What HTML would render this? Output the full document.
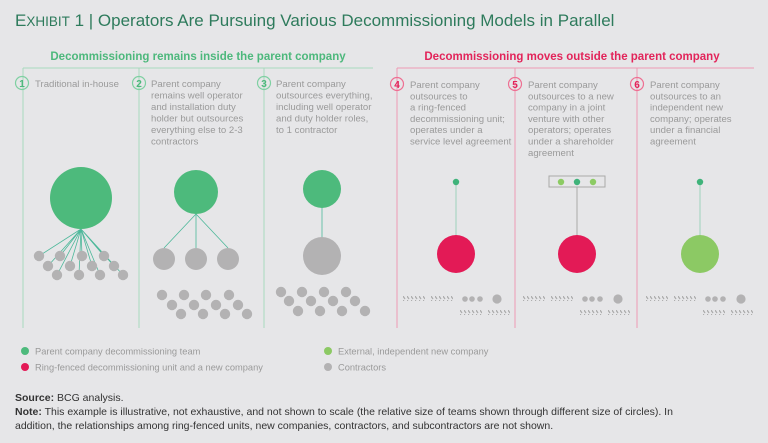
<!DOCTYPE html>
<html><head><meta charset="utf-8"><style>
body{margin:0;background:#e6e6e8;}
svg{display:block;font-family:"Liberation Sans",sans-serif;}
.t{font-size:9.6px;fill:#9a9a9a;}
</style></head><body>
<svg width="768" height="443" viewBox="0 0 768 443" xmlns="http://www.w3.org/2000/svg">
<defs>
<pattern id="h" width="4" height="4" patternUnits="userSpaceOnUse">
<path d="M0,0 L2,3" stroke="#aaa" stroke-width="1.2"/>
</pattern>
<g id="hx"><rect x="0" y="0" width="22" height="5" fill="url(#h)"/></g>
</defs>
<rect width="768" height="443" fill="#e6e6e8"/>
<text x="15" y="26" font-size="17" fill="#2e7b5c">E<tspan font-size="13.5">XHIBIT</tspan> 1 | Operators Are Pursuing Various Decommissioning Models in Parallel</text>

<text x="198" y="60" font-size="11.5" font-weight="bold" fill="#4db87c" text-anchor="middle">Decommissioning remains inside the parent company</text>
<text x="572" y="60" font-size="11.5" font-weight="bold" fill="#e2245a" text-anchor="middle">Decommissioning moves outside the parent company</text>

<g stroke="#a8d9be" stroke-width="1" fill="none">
<path d="M23,68H373M23,68V328M139,68V328M264,68V328"/>
</g>
<g stroke="#ef9ab3" stroke-width="1" fill="none">
<path d="M397,68H754M397,68V328M515,68V328M637,68V328"/>
</g>

<g font-size="10" font-weight="bold" text-anchor="middle">
<circle cx="22" cy="83" r="6.5" fill="none" stroke="#7fd0a2" stroke-width="1.2"/><text x="22" y="87" fill="#4db87c">1</text>
<circle cx="139" cy="83" r="6.5" fill="none" stroke="#7fd0a2" stroke-width="1.2"/><text x="139" y="87" fill="#4db87c">2</text>
<circle cx="264" cy="83" r="6.5" fill="none" stroke="#7fd0a2" stroke-width="1.2"/><text x="264" y="87" fill="#4db87c">3</text>
<circle cx="397" cy="84" r="6.5" fill="none" stroke="#ee6f92" stroke-width="1.2"/><text x="397" y="88" fill="#e2245a">4</text>
<circle cx="515" cy="84" r="6.5" fill="none" stroke="#ee6f92" stroke-width="1.2"/><text x="515" y="88" fill="#e2245a">5</text>
<circle cx="637" cy="84" r="6.5" fill="none" stroke="#ee6f92" stroke-width="1.2"/><text x="637" y="88" fill="#e2245a">6</text>
</g>

<text class="t" x="35" y="87">Traditional in-house</text>
<text class="t"><tspan x="151" y="87">Parent company</tspan><tspan x="151" dy="11.5">remains well operator</tspan><tspan x="151" dy="11.5">and installation duty</tspan><tspan x="151" dy="11.5">holder but outsources</tspan><tspan x="151" dy="11.5">everything else to 2-3</tspan><tspan x="151" dy="11.5">contractors</tspan></text>
<text class="t"><tspan x="276" y="87">Parent company</tspan><tspan x="276" dy="11.5">outsources everything,</tspan><tspan x="276" dy="11.5">including well operator</tspan><tspan x="276" dy="11.5">and duty holder roles,</tspan><tspan x="276" dy="11.5">to 1 contractor</tspan></text>
<text class="t"><tspan x="410" y="88">Parent company</tspan><tspan x="410" dy="11.3">outsources to</tspan><tspan x="410" dy="11.3">a ring-fenced</tspan><tspan x="410" dy="11.3">decommissioning unit;</tspan><tspan x="410" dy="11.3">operates under a</tspan><tspan x="410" dy="11.3">service level agreement</tspan></text>
<text class="t"><tspan x="528" y="88">Parent company</tspan><tspan x="528" dy="11.3">outsources to a new</tspan><tspan x="528" dy="11.3">company in a joint</tspan><tspan x="528" dy="11.3">venture with other</tspan><tspan x="528" dy="11.3">operators; operates</tspan><tspan x="528" dy="11.3">under a shareholder</tspan><tspan x="528" dy="11.3">agreement</tspan></text>
<text class="t"><tspan x="650" y="88">Parent company</tspan><tspan x="650" dy="11.3">outsources to an</tspan><tspan x="650" dy="11.3">independent new</tspan><tspan x="650" dy="11.3">company; operates</tspan><tspan x="650" dy="11.3">under a financial</tspan><tspan x="650" dy="11.3">agreement</tspan></text>

<g stroke="#4db89a" stroke-width="0.8">
<path d="M81,229L39,256M81,229L48,266M81,229L60,256M81,229L57,275M81,229L70,266M81,229L82,256M81,229L79,275M81,229L92,266M81,229L100,275M81,229L104,256M81,229L114,266M81,229L123,275"/>
</g>
<g fill="#b3b2b3">
<circle cx="39" cy="256" r="5.2"/><circle cx="60" cy="256" r="5.2"/><circle cx="82" cy="256" r="5.2"/><circle cx="104" cy="256" r="5.2"/>
<circle cx="48" cy="266" r="5.2"/><circle cx="70" cy="266" r="5.2"/><circle cx="92" cy="266" r="5.2"/><circle cx="114" cy="266" r="5.2"/>
<circle cx="57" cy="275" r="5.2"/><circle cx="79" cy="275" r="5.2"/><circle cx="100" cy="275" r="5.2"/><circle cx="123" cy="275" r="5.2"/>
</g>
<circle cx="81" cy="198" r="31" fill="#4dba7c"/>

<g stroke="#4db89a" stroke-width="0.8"><path d="M196,214L164,248M196,214V248M196,214L228,248"/></g>
<circle cx="196" cy="192" r="22" fill="#4dba7c"/>
<g fill="#b3b2b3">
<circle cx="164" cy="259" r="11"/><circle cx="196" cy="259" r="11"/><circle cx="228" cy="259" r="11"/>
<circle cx="162" cy="295" r="5.2"/><circle cx="184" cy="295" r="5.2"/><circle cx="206" cy="295" r="5.2"/><circle cx="229" cy="295" r="5.2"/>
<circle cx="172" cy="305" r="5.2"/><circle cx="194" cy="305" r="5.2"/><circle cx="216" cy="305" r="5.2"/><circle cx="238" cy="305" r="5.2"/>
<circle cx="181" cy="314" r="5.2"/><circle cx="203" cy="314" r="5.2"/><circle cx="225" cy="314" r="5.2"/><circle cx="247" cy="314" r="5.2"/>
</g>

<path d="M322,207V240" stroke="#4db89a" stroke-width="0.8"/>
<circle cx="322" cy="189" r="19" fill="#4dba7c"/>
<g fill="#b3b2b3">
<circle cx="322" cy="256" r="19"/>
<circle cx="281" cy="292" r="5.2"/><circle cx="302" cy="292" r="5.2"/><circle cx="324" cy="292" r="5.2"/><circle cx="346" cy="292" r="5.2"/>
<circle cx="289" cy="301" r="5.2"/><circle cx="311" cy="301" r="5.2"/><circle cx="333" cy="301" r="5.2"/><circle cx="355" cy="301" r="5.2"/>
<circle cx="298" cy="311" r="5.2"/><circle cx="320" cy="311" r="5.2"/><circle cx="342" cy="311" r="5.2"/><circle cx="365" cy="311" r="5.2"/>
</g>

<path d="M456,182V240" stroke="#9ed1bc" stroke-width="1"/>
<circle cx="456" cy="182" r="3.2" fill="#3fb37a"/>
<circle cx="456" cy="254" r="19" fill="#e31a56"/>

<rect x="549" y="176" width="56" height="11" fill="none" stroke="#a9a9a9" stroke-width="1"/>
<path d="M577,187V240" stroke="#a9a9a9" stroke-width="1"/>
<circle cx="561" cy="182" r="3.2" fill="#8ccb63"/><circle cx="577" cy="182" r="3.2" fill="#3fb37a"/><circle cx="593" cy="182" r="3.2" fill="#8ccb63"/>
<circle cx="577" cy="254" r="19" fill="#e31a56"/>

<path d="M700,182V240" stroke="#9ed1bc" stroke-width="1"/>
<circle cx="700" cy="182" r="3.2" fill="#3fb37a"/>
<circle cx="700" cy="254" r="19" fill="#8cc964"/>

<g>
<use href="#hx" x="403" y="296"/><use href="#hx" x="431" y="296"/><use href="#hx" x="460" y="310"/><use href="#hx" x="488" y="310"/>
<use href="#hx" x="523" y="296"/><use href="#hx" x="551" y="296"/><use href="#hx" x="580" y="310"/><use href="#hx" x="608" y="310"/>
<use href="#hx" x="646" y="296"/><use href="#hx" x="674" y="296"/><use href="#hx" x="703" y="310"/><use href="#hx" x="731" y="310"/>
</g>
<g fill="#b3b2b3">
<circle cx="465" cy="299" r="2.8"/><circle cx="472" cy="299" r="2.8"/><circle cx="480" cy="299" r="2.8"/><circle cx="497" cy="299" r="4.6"/>
<circle cx="585" cy="299" r="2.8"/><circle cx="592" cy="299" r="2.8"/><circle cx="600" cy="299" r="2.8"/><circle cx="618" cy="299" r="4.6"/>
<circle cx="708" cy="299" r="2.8"/><circle cx="715" cy="299" r="2.8"/><circle cx="723" cy="299" r="2.8"/><circle cx="741" cy="299" r="4.6"/>
</g>

<g font-size="9.3" fill="#9a9a9a">
<circle cx="25" cy="351" r="4" fill="#4dba7c"/><text x="35" y="354.5">Parent company decommissioning team</text>
<circle cx="25" cy="367" r="4" fill="#e31a56"/><text x="35" y="370.5">Ring-fenced decommissioning unit and a new company</text>
<circle cx="328" cy="351" r="4" fill="#8cc964"/><text x="338" y="354.5">External, independent new company</text>
<circle cx="328" cy="367" r="4" fill="#b3b2b3"/><text x="338" y="370.5">Contractors</text>
</g>

<g font-size="10.5" fill="#333">
<text x="15" y="401"><tspan font-weight="bold">Source:</tspan> BCG analysis.</text>
<text x="15" y="415"><tspan font-weight="bold">Note:</tspan> This example is illustrative, not exhaustive, and not shown to scale (the relative size of teams shown through different size of circles). In</text>
<text x="15" y="429">addition, the relationships among ring-fenced units, new companies, contractors, and subcontractors are not shown.</text>
</g>
</svg>
</body></html>
